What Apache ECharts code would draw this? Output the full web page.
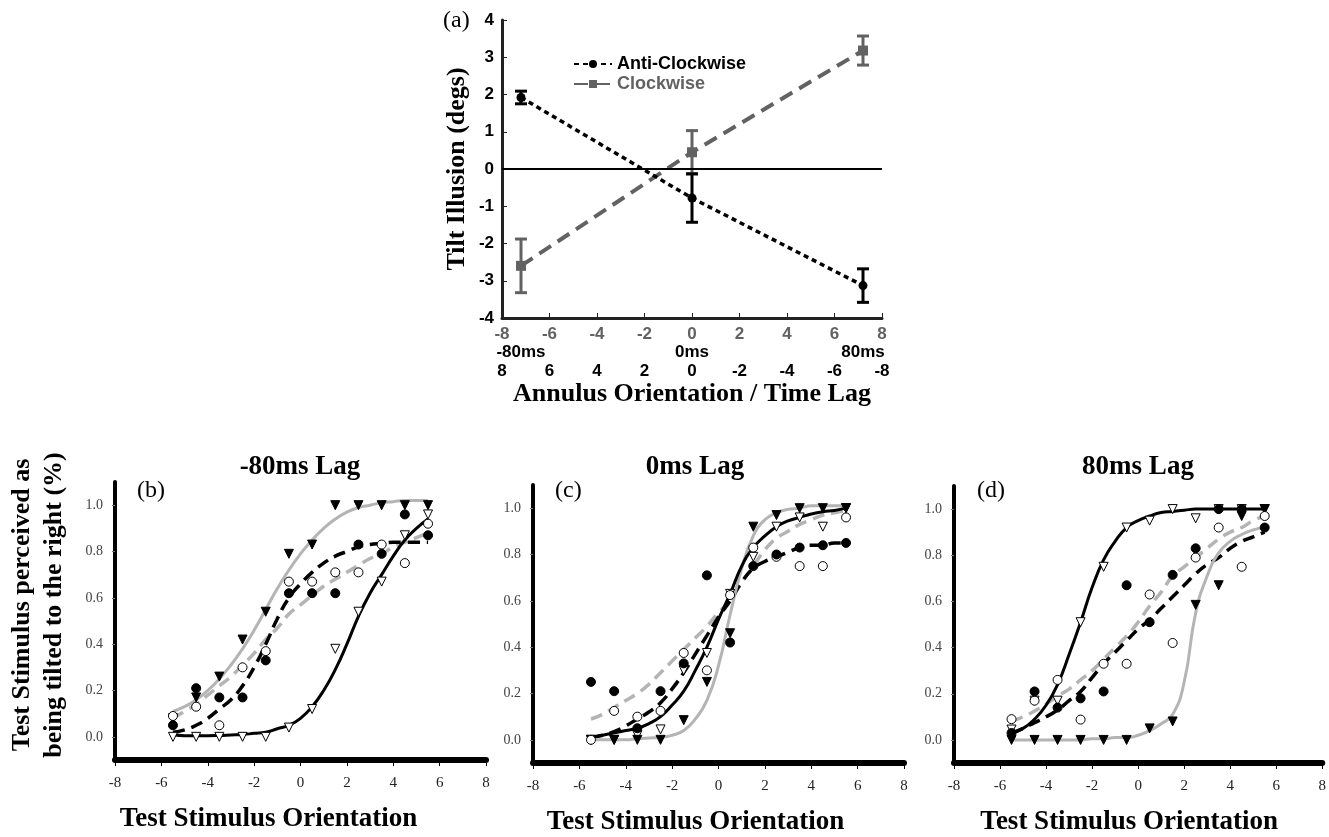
<!DOCTYPE html>
<html>
<head>
<meta charset="utf-8">
<script src="https://cdn.jsdelivr.net/npm/echarts@6/dist/echarts.min.js"></script>
<style>
html, body { margin: 0; padding: 0; background: #fff; }
#chart { width: 1329px; height: 837px; }
</style>
</head>
<body>
<div id="chart"></div>
<script>
// ---- panel (a): tilt illusion vs annulus orientation / time lag
var A_X = [-7.2, 0, 7.2];
var LAG_LABELS = ['-80ms', '0ms', '80ms'];
var ANTI_MEAN = [1.92, -0.78, -3.13];
var ANTI_ERR = [0.17, 0.65, 0.45];
var CW_MEAN = [-2.6, 0.45, 3.18];
var CW_ERR = [0.72, 0.58, 0.39];

// ---- panels (b)-(d): psychometric data
var PTS_X = [-5.5, -4.5, -3.5, -2.5, -1.5, -0.5, 0.5, 1.5, 2.5, 3.5, 4.5, 5.5];
var CURVE_X = [-5.5, -5, -4.5, -4, -3.5, -3, -2.5, -2, -1.5, -1, -0.5, 0,
               0.5, 1, 1.5, 2, 2.5, 3, 3.5, 4, 4.5, 5, 5.5];

// (b) -80ms lag
var B_OPEN_TRI  = [0.0, 0.0, 0.0, 0.0, 0.0, 0.04, 0.12, 0.38, 0.54, 0.67, 0.87, 0.96];
var B_FILL_TRI  = [0.08, 0.17, 0.26, 0.42, 0.54, 0.79, 0.83, 1.0, 1.0, 1.0, 1.0, 1.0];
var B_FILL_CIRC = [0.05, 0.21, 0.17, 0.17, 0.33, 0.62, 0.62, 0.62, 0.83, 0.79, 0.96, 0.87];
var B_OPEN_CIRC = [0.09, 0.13, 0.05, 0.30, 0.37, 0.67, 0.67, 0.71, 0.71, 0.83, 0.75, 0.92];
var B_FIT_BLACK = [0.01, 0.005, 0.005, 0.005, 0.006, 0.008, 0.01, 0.015, 0.02, 0.035, 0.05, 0.08,
                   0.13, 0.20, 0.29, 0.40, 0.52, 0.62, 0.70, 0.78, 0.85, 0.90, 0.94];
var B_FIT_GREY  = [0.11, 0.13, 0.16, 0.20, 0.25, 0.31, 0.38, 0.46, 0.55, 0.64, 0.72, 0.79,
                   0.85, 0.90, 0.94, 0.97, 0.99, 1.0, 1.01, 1.015, 1.02, 1.02, 1.02];
var B_FIT_BLACK_DASH = [0.02, 0.03, 0.05, 0.08, 0.12, 0.16, 0.22, 0.30, 0.40, 0.51, 0.60, 0.66,
                        0.71, 0.75, 0.78, 0.80, 0.82, 0.83, 0.835, 0.84, 0.84, 0.84, 0.84];
var B_FIT_GREY_DASH  = [0.08, 0.11, 0.14, 0.18, 0.22, 0.26, 0.31, 0.36, 0.42, 0.47, 0.53, 0.57,
                        0.61, 0.65, 0.68, 0.71, 0.74, 0.77, 0.79, 0.82, 0.84, 0.86, 0.88];

// (c) 0ms lag
var C_OPEN_TRI  = [0.0, 0.0, 0.02, 0.045, 0.30, 0.375, 0.63, 0.79, 0.92, 0.96, 0.92, 1.0];
var C_FILL_TRI  = [0.0, 0.0, 0.0, 0.0, 0.085, 0.25, 0.46, 0.92, 0.97, 1.0, 1.0, 1.0];
var C_FILL_CIRC = [0.25, 0.21, 0.05, 0.21, 0.33, 0.71, 0.42, 0.75, 0.80, 0.83, 0.84, 0.85];
var C_OPEN_CIRC = [0.0, 0.125, 0.10, 0.125, 0.375, 0.30, 0.625, 0.83, 0.79, 0.75, 0.75, 0.96];
var C_FIT_BLACK = [0.01, 0.02, 0.03, 0.04, 0.05, 0.07, 0.10, 0.15, 0.21, 0.30, 0.40, 0.52,
                   0.63, 0.75, 0.83, 0.88, 0.92, 0.945, 0.96, 0.975, 0.985, 0.99, 1.0];
var C_FIT_GREY  = [0.0, 0.0, 0.0, 0.0, 0.005, 0.008, 0.01, 0.02, 0.04, 0.09, 0.17, 0.32,
                   0.54, 0.74, 0.88, 0.95, 0.98, 0.995, 1.0, 1.01, 1.01, 1.01, 1.01];
var C_FIT_BLACK_DASH = [0.01, 0.02, 0.035, 0.06, 0.09, 0.12, 0.16, 0.22, 0.29, 0.37, 0.45, 0.53,
                        0.60, 0.68, 0.74, 0.77, 0.79, 0.81, 0.83, 0.84, 0.84, 0.85, 0.85];
var C_FIT_GREY_DASH  = [0.09, 0.11, 0.14, 0.17, 0.20, 0.24, 0.29, 0.34, 0.39, 0.44, 0.49, 0.55,
                        0.60, 0.68, 0.75, 0.82, 0.87, 0.90, 0.93, 0.95, 0.97, 0.98, 0.99];

// (d) 80ms lag
var D_OPEN_TRI  = [0.045, 0.17, 0.17, 0.51, 0.75, 0.92, 0.95, 1.0, 0.96, 1.0, 1.0, 1.0];
var D_FILL_TRI  = [0.0, 0.0, 0.0, 0.0, 0.0, 0.0, 0.05, 0.08, 0.585, 0.67, 0.97, 1.0];
var D_FILL_CIRC = [0.03, 0.21, 0.14, 0.18, 0.21, 0.67, 0.51, 0.715, 0.83, 1.0, 1.0, 0.92];
var D_OPEN_CIRC = [0.09, 0.17, 0.26, 0.088, 0.33, 0.33, 0.63, 0.42, 0.79, 0.92, 0.75, 0.97];
var D_FIT_BLACK = [0.03, 0.05, 0.09, 0.15, 0.24, 0.37, 0.51, 0.66, 0.78, 0.86, 0.92, 0.95,
                   0.97, 0.985, 0.99, 0.995, 1.0, 1.0, 1.0, 1.0, 1.0, 1.0, 1.0];
var D_FIT_GREY  = [0.0, 0.0, 0.0, 0.0, 0.0, 0.0, 0.0, 0.005, 0.005, 0.01, 0.01, 0.02,
                   0.04, 0.07, 0.11, 0.25, 0.55, 0.71, 0.81, 0.86, 0.89, 0.91, 0.92];
var D_FIT_BLACK_DASH = [0.03, 0.05, 0.075, 0.10, 0.13, 0.17, 0.21, 0.27, 0.33, 0.38, 0.43, 0.48,
                        0.52, 0.57, 0.62, 0.67, 0.72, 0.76, 0.79, 0.83, 0.86, 0.88, 0.90];
var D_FIT_GREY_DASH  = [0.08, 0.10, 0.125, 0.155, 0.19, 0.22, 0.26, 0.30, 0.35, 0.40, 0.45, 0.51,
                        0.58, 0.64, 0.71, 0.75, 0.79, 0.83, 0.87, 0.90, 0.92, 0.95, 0.97];

var PANEL_TITLES = ['-80ms Lag', '0ms Lag', '80ms Lag'];
var PANEL_TAGS = ['(b)', '(c)', '(d)'];
var Y_TICKS = [0, 0.2, 0.4, 0.6, 0.8, 1.0];

var SERIF = '"Liberation Serif", "Times New Roman", serif';
var SANS = '"Liberation Sans", Arial, sans-serif';
var GREY = '#b4b4b4';
var DARK_GREY = '#626262';

var myChart = echarts.init(document.getElementById('chart'));

function pairs(xs, ys) {
	return xs.map(function (x, i) { return [x, ys[i]]; });
}

function errRows(xs, mean, err) {
	return xs.map(function (x, i) { return [x, mean[i] - err[i], mean[i] + err[i]]; });
}

function errorBars(data, color, width) {
	return {
		type: 'custom',
		xAxisIndex: 0,
		yAxisIndex: 0,
		data: data,
		encode: { x: 0, y: [1, 2] },
		silent: true,
		z: 4,
		renderItem: function (params, api) {
			var lo = api.coord([api.value(0), api.value(1)]);
			var hi = api.coord([api.value(0), api.value(2)]);
			var cap = 6;
			var style = { stroke: color, lineWidth: width };
			return {
				type: 'group',
				children: [
					{ type: 'line', shape: { x1: hi[0], y1: hi[1], x2: lo[0], y2: lo[1] }, style: style },
					{ type: 'line', shape: { x1: hi[0] - cap, y1: hi[1], x2: hi[0] + cap, y2: hi[1] }, style: style },
					{ type: 'line', shape: { x1: lo[0] - cap, y1: lo[1], x2: lo[0] + cap, y2: lo[1] }, style: style }
				]
			};
		}
	};
}

// panel k uses xAxis k+3 and yAxis k+1 (grid k+1)
function fit(k, ys, color, dash, width) {
	return {
		type: 'line',
		xAxisIndex: k + 3,
		yAxisIndex: k + 1,
		data: pairs(CURVE_X, ys),
		showSymbol: false,
		smooth: true,
		silent: true,
		z: 2,
		lineStyle: { color: color, width: width, type: dash, cap: 'butt' }
	};
}

function marks(k, ys, symbol, fill, rotate, size) {
	return {
		type: 'scatter',
		xAxisIndex: k + 3,
		yAxisIndex: k + 1,
		data: pairs(PTS_X, ys),
		symbol: symbol,
		symbolRotate: rotate,
		symbolSize: size,
		silent: true,
		z: 3,
		itemStyle: { color: fill, borderColor: '#000', borderWidth: 1, opacity: 1 }
	};
}

var panelData = [
	[B_OPEN_TRI, B_FILL_TRI, B_FILL_CIRC, B_OPEN_CIRC, B_FIT_BLACK, B_FIT_GREY, B_FIT_BLACK_DASH, B_FIT_GREY_DASH],
	[C_OPEN_TRI, C_FILL_TRI, C_FILL_CIRC, C_OPEN_CIRC, C_FIT_BLACK, C_FIT_GREY, C_FIT_BLACK_DASH, C_FIT_GREY_DASH],
	[D_OPEN_TRI, D_FILL_TRI, D_FILL_CIRC, D_OPEN_CIRC, D_FIT_BLACK, D_FIT_GREY, D_FIT_BLACK_DASH, D_FIT_GREY_DASH]
];

var grids = [
	{ left: 502, top: 20, width: 380, height: 298 },
	{ left: 115, top: 482, width: 371, height: 278 },
	{ left: 533, top: 485, width: 371, height: 279 },
	{ left: 954, top: 486, width: 370, height: 277 }
];

// panel (a) axes: three label rows under one axis
var xAxes = [
	{
		type: 'value', gridIndex: 0, position: 'bottom', min: -8, max: 8, interval: 2,
		axisLine: { onZero: false, lineStyle: { color: '#222', width: 3 } },
		axisTick: { inside: true, length: 5, lineStyle: { color: '#222', width: 1 } },
		splitLine: { show: false },
		axisLabel: { margin: 8, color: DARK_GREY, fontFamily: SANS, fontWeight: 'bold', fontSize: 17 }
	},
	{
		type: 'value', gridIndex: 0, position: 'bottom', offset: 18, min: -8, max: 8,
		axisLine: { show: false }, axisTick: { show: false }, splitLine: { show: false },
		axisLabel: {
			customValues: A_X, margin: 8, color: '#000', fontFamily: SANS, fontWeight: 'bold', fontSize: 17,
			formatter: function (v) {
				var i = A_X.indexOf(v);
				return i < 0 ? '' : LAG_LABELS[i];
			}
		}
	},
	{
		type: 'value', gridIndex: 0, position: 'bottom', offset: 37, min: -8, max: 8, interval: 2,
		axisLine: { show: false }, axisTick: { show: false }, splitLine: { show: false },
		axisLabel: {
			margin: 8, color: '#000', fontFamily: SANS, fontWeight: 'bold', fontSize: 17,
			formatter: function (v) { return String(-v || 0); }
		},
		name: 'Annulus Orientation / Time Lag', nameLocation: 'middle', nameGap: 24,
		nameTextStyle: { color: '#000', fontFamily: SERIF, fontWeight: 'bold', fontSize: 26 }
	}
];
var yAxes = [
	{
		type: 'value', gridIndex: 0, min: -4, max: 4, interval: 1,
		axisLine: { onZero: false, lineStyle: { color: '#222', width: 3 } },
		axisTick: { inside: true, length: 5, lineStyle: { color: '#222' } },
		splitLine: { show: false },
		axisLabel: { margin: 8, color: '#000', fontFamily: SANS, fontWeight: 'bold', fontSize: 17 },
		name: 'Tilt Illusion (degs)', nameLocation: 'middle', nameGap: 32,
		nameTextStyle: { color: '#000', fontFamily: SERIF, fontWeight: 'bold', fontSize: 26 }
	}
];

var namePad = [64, 46, 18];
for (var p = 0; p < 3; p++) {
	xAxes.push({
		type: 'value', gridIndex: p + 1, min: -8, max: 8, interval: 2,
		axisLine: { onZero: false, lineStyle: { color: '#000', width: 6 } },
		axisTick: { length: 6, lineStyle: { color: '#000', width: 1 } },
		splitLine: { show: false },
		axisLabel: { margin: 16, color: '#222', fontFamily: SERIF, fontSize: 15 },
		name: 'Test Stimulus Orientation', nameLocation: 'middle', nameGap: 46,
		nameTextStyle: { color: '#000', fontFamily: SERIF, fontWeight: 'bold', fontSize: 27,
			padding: [0, namePad[p], 0, 0] }
	});
	yAxes.push({
		type: 'value', gridIndex: p + 1, min: -0.1, max: 1.1,
		axisLine: { onZero: false, lineStyle: { color: '#000', width: 4 } },
		axisTick: { customValues: Y_TICKS, length: 3, lineStyle: { color: '#777' } },
		splitLine: { show: false },
		axisLabel: {
			customValues: Y_TICKS, margin: 12, color: '#444', fontFamily: SERIF, fontSize: 14,
			formatter: function (v) { return v.toFixed(1); }
		}
	});
}

var series = [
	{
		name: 'Clockwise', type: 'line', xAxisIndex: 0, yAxisIndex: 0,
		data: pairs(A_X, CW_MEAN),
		symbol: 'rect', symbolSize: 10, z: 3,
		itemStyle: { color: DARK_GREY },
		lineStyle: { color: DARK_GREY, width: 4, type: [14, 8] },
		markLine: {
			silent: true, symbol: 'none', label: { show: false },
			lineStyle: { color: '#000', width: 2, type: 'solid' },
			data: [{ yAxis: 0 }]
		}
	},
	{
		name: 'Anti-Clockwise', type: 'line', xAxisIndex: 0, yAxisIndex: 0,
		data: pairs(A_X, ANTI_MEAN),
		symbol: 'circle', symbolSize: 9, z: 5,
		itemStyle: { color: '#000' },
		lineStyle: { color: '#000', width: 3.5, type: [5, 4] }
	},
	errorBars(errRows(A_X, CW_MEAN, CW_ERR), DARK_GREY, 3),
	errorBars(errRows(A_X, ANTI_MEAN, ANTI_ERR), '#000', 3)
];

for (var k = 0; k < 3; k++) {
	var d = panelData[k];
	series.push(fit(k, d[7], GREY, [12, 7], 3.5));
	series.push(fit(k, d[6], '#000', [12, 7], 3.5));
	series.push(fit(k, d[5], GREY, 'solid', 3));
	series.push(fit(k, d[4], '#000', 'solid', 3));
	series.push(marks(k, d[0], 'triangle', '#fff', 180, 9));
	series.push(marks(k, d[1], 'triangle', '#000', 180, 9));
	series.push(marks(k, d[3], 'circle', '#fff', 0, 9));
	series.push(marks(k, d[2], 'circle', '#000', 0, 9));
}

var titleCenters = [300, 695, 1138];
var tagLefts = [137, 555, 977];
var graphics = [
	{ type: 'text', x: 443, y: 21, style: { text: '(a)', font: '24px ' + SERIF, fill: '#000',
		align: 'left', verticalAlign: 'middle' } },
	{ type: 'text', x: 38, y: 605, rotation: Math.PI / 2,
		style: { text: 'Test Stimulus perceived as\nbeing tilted to the right (%)',
			font: 'bold 26px ' + SERIF, lineHeight: 32, fill: '#000',
			align: 'center', verticalAlign: 'middle' } }
];
for (var t = 0; t < 3; t++) {
	graphics.push({ type: 'text', x: titleCenters[t], y: 467,
		style: { text: PANEL_TITLES[t], font: 'bold 27px ' + SERIF, fill: '#000',
			align: 'center', verticalAlign: 'middle' } });
	graphics.push({ type: 'text', x: tagLefts[t], y: 491,
		style: { text: PANEL_TAGS[t], font: '24px ' + SERIF, fill: '#000',
			align: 'left', verticalAlign: 'middle' } });
}

var option = {
	animation: false,
	backgroundColor: '#fff',
	grid: grids,
	xAxis: xAxes,
	yAxis: yAxes,
	legend: {
		orient: 'vertical',
		left: 568,
		top: 50,
		itemWidth: 38,
		itemHeight: 10,
		itemGap: 2,
		selectedMode: false,
		textStyle: { fontFamily: SANS, fontWeight: 'bold', fontSize: 18 },
		data: [
			{ name: 'Anti-Clockwise', textStyle: { color: '#000' } },
			{ name: 'Clockwise', textStyle: { color: DARK_GREY } }
		]
	},
	graphic: graphics,
	series: series
};
myChart.setOption(option, true);
</script>
</body>
</html>
